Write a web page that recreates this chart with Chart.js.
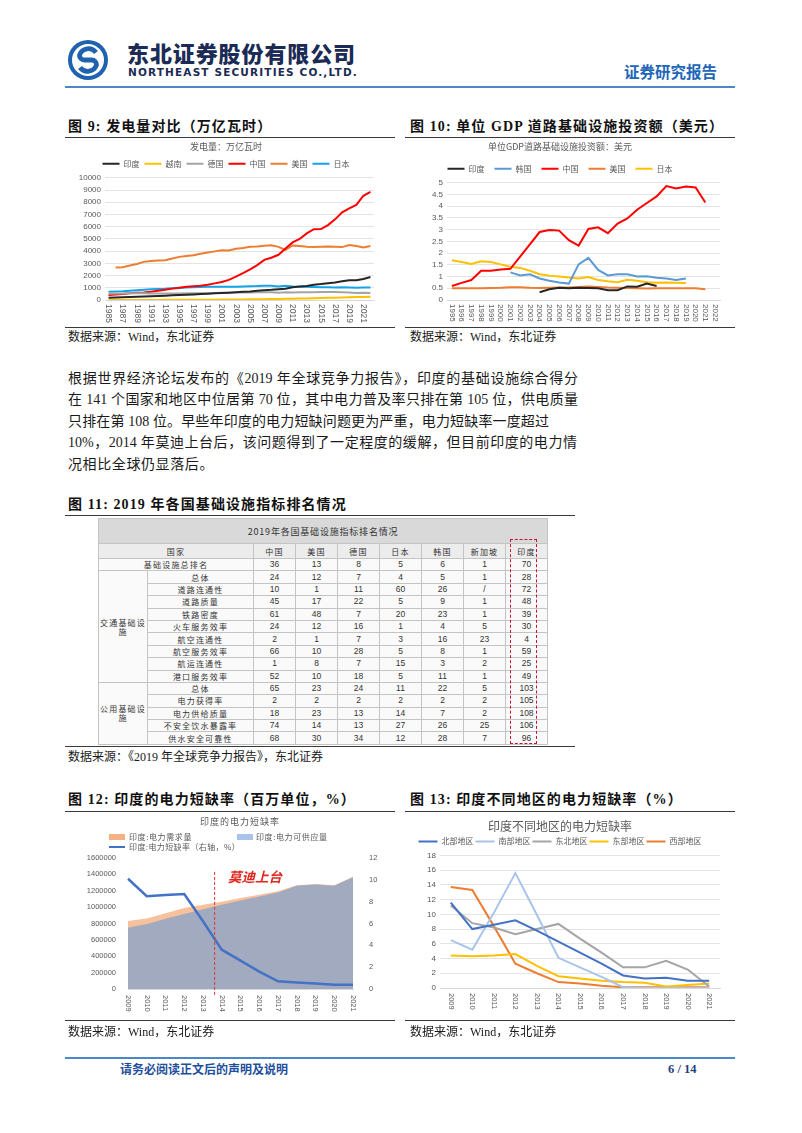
<!DOCTYPE html>
<html lang="zh-CN">
<head>
<meta charset="utf-8">
<title>东北证券 证券研究报告 6/14</title>
<script src="https://cdn.jsdelivr.net/npm/chart.js@4.4.1/dist/chart.umd.min.js"></script>
<style>
html, body { margin: 0; padding: 0; background: #fff; }
#pagina { position: relative; width: 802px; height: 1133px; overflow: hidden; font-family: "Liberation Serif", "Noto Sans CJK SC", serif; color: #1a1a1a; }
#pagina > * { position: absolute; }
.titulo { font-size: 14px; font-weight: bold; line-height: 16px; white-space: nowrap; color: #111; letter-spacing: 1.1px; }
.linha { height: 0; border-top: 1px solid #3a3a3a; }
.fonte { font-size: 12px; line-height: 14px; white-space: nowrap; }
.texto { left: 68px; font-size: 14px; line-height: 16px; white-space: nowrap; text-align: justify; text-align-last: justify; }
.leg { font-family: "Noto Sans CJK SC", sans-serif; font-size: 8px; line-height: 10px; color: #595959; white-space: nowrap; }
.caixa { height: 6px; width: 16px; }
#tabela { border-collapse: collapse; table-layout: fixed; font-family: "Noto Sans CJK SC", sans-serif; color: #333; }
#tabela td { border: 1px solid #c4c4c4; padding: 0; text-align: center; font-size: 8px; line-height: 9px; height: 11.4px; letter-spacing: 1.2px; background: #fafafa; }
#tabela td.num { font-family: "Liberation Sans", sans-serif; font-size: 8.5px; letter-spacing: 0; }
#tabela tr.cab td { background: #ececec; height: 14px; }
#tabela tr.tit td { background: #d9d9d9; height: 24px; font-size: 9px; letter-spacing: 0.8px; }
</style>
</head>
<body>
<div id="pagina">

  <svg style="left:67px;top:39px" width="42" height="42" viewBox="0 0 42 42">
    <circle cx="21" cy="21" r="20" fill="#1f62b0"/>
    <circle cx="21" cy="21" r="16" fill="#fff"/>
    <path d="M29 13.5 A9.5 9.5 0 0 0 12.5 16 A4.8 4.8 0 0 0 17.5 21 L24.5 21 A4.8 4.8 0 0 1 29.5 26 A9.5 9.5 0 0 1 13 28.5" fill="none" stroke="#1f62b0" stroke-width="4.8"/>
  </svg>
  <div style="left:127px;top:39px;font-family:'Noto Sans CJK SC';font-weight:900;font-size:22px;line-height:26px;letter-spacing:0.9px;color:#1c2b55;white-space:nowrap">东北证券股份有限公司</div>
  <div style="left:128px;top:66px;font-family:'DejaVu Sans';font-weight:bold;font-size:10.5px;line-height:12px;letter-spacing:1.15px;color:#1c2b55;white-space:nowrap">NORTHEAST SECURITIES CO.,LTD.</div>
  <div style="left:624px;top:62px;font-family:'Noto Sans CJK SC';font-weight:bold;font-size:15.5px;line-height:18px;color:#2266b8;white-space:nowrap">证券研究报告</div>
  <div style="left:65px;top:86px;width:670px;height:2px;background:#4a88c8"></div>

  <div class="titulo" style="left:68px;top:119px">图 9: 发电量对比（万亿瓦时）</div>
  <div class="linha" style="left:65px;top:137px;width:330px"></div>
  <canvas id="grafico9" width="318" height="188" style="left:78px;top:139px"></canvas>
  <div class="linha" style="left:65px;top:327px;width:330px;border-top-width:1.5px"></div>
  <div class="fonte" style="left:68px;top:330px">数据来源：Wind，东北证券</div>

  <div class="titulo" style="left:410px;top:119px">图 10: 单位 GDP 道路基础设施投资额（美元）</div>
  <div class="linha" style="left:405px;top:137px;width:330px"></div>
  <canvas id="grafico10" width="330" height="188" style="left:400px;top:139px"></canvas>
  <div class="linha" style="left:405px;top:327px;width:330px;border-top-width:1.5px"></div>
  <div class="fonte" style="left:410px;top:330px">数据来源：Wind，东北证券</div>

  <div class="texto" style="top:371px;width:510px">根据世界经济论坛发布的《2019 年全球竞争力报告》，印度的基础设施综合得分</div>
  <div class="texto" style="top:392px;width:510px">在 141 个国家和地区中位居第 70 位，其中电力普及率只排在第 105 位，供电质量</div>
  <div class="texto" style="top:414px;width:481px">只排在第 108 位。早些年印度的电力短缺问题更为严重，电力短缺率一度超过</div>
  <div class="texto" style="top:435px;width:509px">10%，2014 年莫迪上台后，该问题得到了一定程度的缓解，但目前印度的电力情</div>
  <div class="texto" style="top:457px;text-align:left;text-align-last:left;letter-spacing:0.6px">况相比全球仍显落后。</div>

  <div class="titulo" style="left:68px;top:497px">图 11: 2019 年各国基础设施指标排名情况</div>
  <div class="linha" style="left:65px;top:515px;width:510px"></div>
  <table id="tabela" style="left:98px;top:518px;width:449px"></table>
  <div style="left:510px;top:539px;width:25px;height:203px;border:1px dashed #c8102e"></div>
  <div class="linha" style="left:65px;top:746px;width:510px;border-top-width:1.5px"></div>
  <div class="fonte" style="left:68px;top:750px">数据来源：《2019 年全球竞争力报告》，东北证券</div>

  <div class="titulo" style="left:68px;top:792px">图 12: 印度的电力短缺率（百万单位，%）</div>
  <div class="linha" style="left:65px;top:811px;width:330px"></div>
  <canvas id="grafico12" width="300" height="206" style="left:80px;top:815px"></canvas>
  <div class="leg" style="left:200px;top:816px;font-size:9px;line-height:11px;letter-spacing:1px">印度的电力短缺率</div>
  <div class="caixa" style="left:109px;top:834px;background:#f4b183"></div>
  <div class="leg" style="left:129px;top:832px;letter-spacing:0.6px">印度:电力需求量</div>
  <div class="caixa" style="left:237px;top:834px;background:#a9c4eb"></div>
  <div class="leg" style="left:256px;top:832px;letter-spacing:0.6px">印度:电力可供应量</div>
  <div style="left:109px;top:846px;width:16px;height:2px;background:#4472c4"></div>
  <div class="leg" style="left:129px;top:842px;letter-spacing:0.4px">印度:电力短缺率（右轴，%）</div>
  <div style="left:228px;top:868px;font-family:'Noto Sans CJK SC';font-weight:bold;font-style:italic;font-size:13.5px;line-height:16px;color:#e0281e;white-space:nowrap">莫迪上台</div>
  <div class="linha" style="left:65px;top:1020px;width:330px;border-top-width:1.5px"></div>
  <div class="fonte" style="left:68px;top:1025px">数据来源：Wind，东北证券</div>

  <div class="titulo" style="left:410px;top:792px">图 13: 印度不同地区的电力短缺率（%）</div>
  <div class="linha" style="left:405px;top:811px;width:330px"></div>
  <canvas id="grafico13" width="330" height="206" style="left:400px;top:815px"></canvas>
  <div class="linha" style="left:405px;top:1020px;width:330px;border-top-width:1.5px"></div>
  <div class="fonte" style="left:410px;top:1025px">数据来源：Wind，东北证券</div>

  <div style="left:65px;top:1057px;width:670px;height:2px;background:#4a88c8"></div>
  <div style="left:120px;top:1062px;font-family:'Noto Sans CJK SC';font-weight:bold;font-size:12px;line-height:14px;color:#1f4f9c;white-space:nowrap">请务必阅读正文后的声明及说明</div>
  <div style="left:668px;top:1062px;font-family:'Liberation Serif';font-weight:bold;font-size:12.5px;line-height:14px;color:#1f3f7c;white-space:nowrap">6 / 14</div>
</div>

<script>
// 图9 发电量
const anos9 = ['1985','1986','1987','1988','1989','1990','1991','1992','1993','1994','1995','1996','1997','1998','1999','2000','2001','2002','2003','2004','2005','2006','2007','2008','2009','2010','2011','2012','2013','2014','2015','2016','2017','2018','2019','2020','2021','2022'];
const india9 = [180,200,220,240,260,290,310,330,350,380,410,430,460,490,520,560,580,600,630,670,700,750,800,830,880,930,1050,1100,1150,1240,1300,1380,1430,1530,1620,1610,1720,1880];
const vietna9 = [5,6,7,8,8,9,9,10,11,13,15,17,19,21,24,27,31,36,41,46,54,60,67,75,84,95,105,115,125,140,160,175,190,210,230,240,250,260];
const alemanha9 = [520,530,540,550,560,550,540,540,530,530,540,550,550,560,560,580,590,590,610,620,620,640,640,640,590,630,610,630,640,630,650,650,650,640,610,570,590,580];
const china9 = [410,450,500,545,585,620,680,755,840,930,1010,1080,1135,1170,1240,1360,1480,1650,1910,2200,2500,2860,3280,3460,3700,4210,4710,4990,5450,5790,5810,6130,6600,7170,7500,7780,8530,8850];
const eua9 = [null,2650,2680,2830,2950,3120,3200,3230,3260,3400,3530,3600,3670,3780,3880,3980,4070,4050,4200,4260,4350,4370,4430,4480,4350,4100,4460,4420,4350,4330,4350,4380,4360,4330,4500,4420,4300,4420];
const japao9 = [680,700,720,760,800,840,880,900,920,960,990,1020,1050,1060,1080,1090,1080,1090,1080,1110,1130,1140,1170,1160,1110,1160,1100,1090,1080,1060,1040,1040,1030,1040,1030,1000,1020,1020];

// 图10 单位GDP道路基础设施投资额
const anos10 = ['1995','1996','1997','1998','1999','2000','2001','2002','2003','2004','2005','2006','2007','2008','2009','2010','2011','2012','2013','2014','2015','2016','2017','2018','2019','2020','2021','2022'];
const india10 = [null,null,null,null,null,null,null,null,null,0.33,0.46,0.52,0.5,0.52,0.51,0.5,0.42,0.42,0.58,0.57,0.7,0.6,null,null,null,null,null,null];
const coreia10 = [null,null,null,null,null,null,1.18,1.05,1.1,0.92,0.82,0.75,0.7,1.52,1.8,1.28,1.05,1.1,1.1,1.0,1.01,0.95,0.92,0.85,0.92,null,null,null];
const china10 = [0.6,0.73,0.85,1.25,1.25,1.3,1.33,1.85,2.37,2.9,2.99,2.96,2.55,2.32,3.03,3.1,2.85,3.26,3.48,3.85,4.14,4.42,4.86,4.76,4.84,4.8,4.16,null];
const eua10 = [0.5,0.5,0.5,0.5,0.51,0.52,0.54,0.54,0.52,0.51,0.52,0.53,0.53,0.56,0.58,0.56,0.53,0.52,0.51,0.5,0.49,0.5,0.5,0.5,0.5,0.5,0.46,null];
const japao10 = [1.7,1.62,1.54,1.65,1.62,1.52,1.42,1.37,1.25,1.1,1.04,1.0,0.96,0.92,0.98,0.85,0.8,0.76,0.86,0.82,0.76,0.74,0.75,0.74,0.73,null,null,null];

// 图11 排名表
const paises = ['中国','美国','德国','日本','韩国','新加坡','印度'];
const rankTotal = [36,13,8,5,6,1,70];
const transporte = [
    ['总体',24,12,7,4,5,1,28],
    ['道路连通性',10,1,11,60,26,'/',72],
    ['道路质量',45,17,22,5,9,1,48],
    ['铁路密度',61,48,7,20,23,1,39],
    ['火车服务效率',24,12,16,1,4,5,30],
    ['航空连通性',2,1,7,3,16,23,4],
    ['航空服务效率',66,10,28,5,8,1,59],
    ['航运连通性',1,8,7,15,3,2,25],
    ['港口服务效率',52,10,18,5,11,1,49]
];
const utilidades = [
    ['总体',65,23,24,11,22,5,103],
    ['电力获得率',2,2,2,2,2,2,105],
    ['电力供给质量',18,23,13,14,7,2,108],
    ['不安全饮水暴露率',74,14,13,27,26,25,106],
    ['供水安全可靠性',68,30,34,12,28,7,96]
];

// 图12 电力短缺率
const anos12 = ['2009','2010','2011','2012','2013','2014','2015','2016','2017','2018','2019','2020','2021'];
const demanda12 = [830000,860000,925000,990000,1030000,1065000,1110000,1150000,1195000,1267000,1282000,1268000,1372000];
const oferta12 = [747000,795000,858000,915000,975000,1030000,1080000,1130000,1180000,1260000,1276000,1262000,1366000];
const taxa12 = [10.1,8.5,8.6,8.7,6.2,3.6,2.6,1.6,0.7,0.6,0.5,0.4,0.4];
const indiceModi = 4.62;
const topoModi = 1430000;

// 图13 各地区电力短缺率
const anos13 = anos12;
const norte13 = [11.6,8.0,8.6,9.2,7.8,6.3,4.8,3.3,1.7,1.3,1.4,1.0,1.0];
const sul13 = [6.5,5.2,10.2,15.6,9.9,4.1,2.8,1.5,0.1,0,0,0,0];
const nordeste13 = [11.2,8.8,8.2,7.3,8.0,8.7,6.7,4.8,2.8,2.8,3.7,2.5,0.2];
const leste13 = [4.4,4.3,4.4,4.6,3.0,1.6,1.3,1.0,0.8,0.7,0.2,0.4,0.6];
const oeste13 = [13.7,13.3,8.4,3.3,2.0,0.8,0.6,0.3,0.1,0.1,0.1,0.1,0.1];

const cjk = 'Noto Sans CJK SC';
const cinza = '#595959';

// rotulos do eixo x girados 90 graus (leitura de cima para baixo)
const rotulosVerticais = {
    id: 'rotulosVerticais',
    afterDraw(chart, args, opts) {
        const xs = chart.scales.x;
        const ctx = chart.ctx;
        ctx.save();
        ctx.fillStyle = cinza;
        ctx.font = (opts.tamanho || 8) + 'px "Liberation Sans"';
        ctx.textAlign = 'left';
        ctx.textBaseline = 'middle';
        chart.data.labels.forEach((rotulo, i) => {
            if (i % (opts.passo || 1)) return;
            ctx.save();
            ctx.translate(xs.getPixelForValue(i), xs.top + (opts.afastamento || 4));
            ctx.rotate(Math.PI / 2);
            ctx.fillText(rotulo, 0, 0);
            ctx.restore();
        });
        ctx.restore();
    }
};

const linhaModi = {
    id: 'linhaModi',
    afterDatasetsDraw(chart) {
        const x = chart.scales.x.getPixelForValue(indiceModi);
        const ctx = chart.ctx;
        ctx.save();
        ctx.strokeStyle = '#e03030';
        ctx.lineWidth = 1;
        ctx.setLineDash([3, 2]);
        ctx.beginPath();
        ctx.moveTo(x, chart.scales.y.getPixelForValue(topoModi));
        ctx.lineTo(x, chart.chartArea.bottom + 6);
        ctx.stroke();
        ctx.restore();
    }
};

function serie(rotulo, dados, cor, largura) {
    return {
        label: rotulo,
        data: dados,
        borderColor: cor,
        backgroundColor: cor,
        borderWidth: largura || 2,
        pointRadius: 0,
        tension: 0,
        spanGaps: false
    };
}

function opcoesLinha(titulo, yMin, yMax, passo, larguraY, alturaX, direita, tamTitulo, padTitulo, legPad, legLargura, passoX, tamX, afast) {
    return {
        responsive: false,
        animation: false,
        layout: { padding: { left: 0, right: direita, top: 0, bottom: 0 } },
        plugins: {
            title: {
                display: true, text: titulo, color: cinza,
                font: { family: cjk, size: tamTitulo, weight: 'normal' }, padding: padTitulo
            },
            legend: {
                position: 'top',
                labels: {
                    color: cinza, font: { family: cjk, size: 8 },
                    usePointStyle: true, pointStyle: 'line', pointStyleWidth: legLargura,
                    padding: legPad, boxHeight: 8
                }
            },
            tooltip: { enabled: false },
            rotulosVerticais: { passo: passoX, tamanho: tamX, afastamento: afast }
        },
        scales: {
            x: {
                offset: true,
                grid: { display: false },
                border: { color: '#d9d9d9' },
                ticks: { display: false },
                afterFit: s => { s.height = alturaX; }
            },
            y: {
                min: yMin, max: yMax,
                grid: { color: '#e4e4e4', drawTicks: false },
                border: { display: false },
                ticks: { stepSize: passo, autoSkip: false, color: cinza, padding: 4, font: { family: 'Liberation Sans', size: 8 }, callback: v => String(v) },
                afterFit: s => { s.width = larguraY; }
            }
        }
    };
}

new Chart(document.getElementById('grafico9'), {
    type: 'line',
    data: {
        labels: anos9,
        datasets: [
            serie('印度', india9, '#262626'),
            serie('越南', vietna9, '#ffc000'),
            serie('德国', alemanha9, '#a5a5a5'),
            serie('中国', china9, '#ff0000'),
            serie('美国', eua9, '#ed7d31'),
            serie('日本', japao9, '#12a3e8')
        ]
    },
    options: opcoesLinha('发电量：万亿瓦时', 0, 10000, 1000, 27, 27, 22, 9, { top: 2, bottom: 3 }, 5, 17, 2, 8.5, 4),
    plugins: [rotulosVerticais]
});

new Chart(document.getElementById('grafico10'), {
    type: 'line',
    data: {
        labels: anos10,
        datasets: [
            serie('印度', india10, '#262626'),
            serie('韩国', coreia10, '#5b9bd5'),
            serie('中国', china10, '#ff0000'),
            serie('美国', eua10, '#ed7d31'),
            serie('日本', japao10, '#ffc000')
        ]
    },
    options: opcoesLinha('单位GDP道路基础设施投资额：美元', 0, 5, 0.5, 47, 27, 10, 9, { top: 2, bottom: 3 }, 10, 17, 1, 8, 4),
    plugins: [rotulosVerticais]
});

new Chart(document.getElementById('grafico13'), {
    type: 'line',
    data: {
        labels: anos13,
        datasets: [
            serie('北部地区', norte13, '#4472c4'),
            serie('南部地区', sul13, '#a9c4eb'),
            serie('东北地区', nordeste13, '#a5a5a5'),
            serie('东部地区', leste13, '#ffc000'),
            serie('西部地区', oeste13, '#ed7d31')
        ]
    },
    options: opcoesLinha('印度不同地区的电力短缺率', 0, 18, 2, 40, 33, 10, 12, { top: 4, bottom: 2 }, 2, 19, 1, 7.5, 5),
    plugins: [rotulosVerticais]
});

new Chart(document.getElementById('grafico12'), {
    type: 'line',
    data: {
        labels: anos12,
        datasets: [
            { label: '印度:电力短缺率（右轴，%）', data: taxa12, yAxisID: 'y1', borderColor: '#4472c4', borderWidth: 2.5, pointRadius: 0, fill: false, order: 0 },
            { label: '印度:电力可供应量', data: oferta12, yAxisID: 'y', borderWidth: 0, pointRadius: 0, fill: 'origin', backgroundColor: '#a2aac0', order: 1 },
            { label: '印度:电力需求量', data: demanda12, yAxisID: 'y', borderWidth: 0, pointRadius: 0, fill: 'origin', backgroundColor: '#f6c19c', order: 2 }
        ]
    },
    options: {
        responsive: false,
        animation: false,
        layout: { padding: { left: 0, right: 0, top: 43, bottom: 0 } },
        plugins: {
            legend: { display: false },
            tooltip: { enabled: false },
            rotulosVerticais: { passo: 1, tamanho: 7.5, afastamento: 6 }
        },
        scales: {
            x: {
                offset: false,
                grid: { display: false },
                border: { color: '#d9d9d9' },
                ticks: { display: false },
                afterFit: s => { s.height = 32; }
            },
            y: {
                position: 'left', min: 0, max: 1600000,
                grid: { display: false },
                border: { display: false },
                ticks: { stepSize: 200000, autoSkip: false, color: cinza, padding: 4, font: { family: 'Liberation Sans', size: 7.5 }, callback: v => String(v) },
                afterFit: s => { s.width = 48; }
            },
            y1: {
                position: 'right', min: 0, max: 12,
                grid: { display: false },
                border: { display: false },
                ticks: { stepSize: 2, autoSkip: false, color: cinza, padding: 8, font: { family: 'Liberation Sans', size: 7.5 } },
                afterFit: s => { s.width = 27; }
            }
        }
    },
    plugins: [rotulosVerticais, linhaModi]
});

// monta a tabela
const tabela = document.getElementById('tabela');
let html = '<colgroup><col style="width:49px"><col style="width:106px">' + paises.map(() => '<col style="width:42px">').join('') + '</colgroup>';
html += '<tr class="tit"><td colspan="9">2019年各国基础设施指标排名情况</td></tr>';
html += '<tr class="cab"><td colspan="2">国家</td>' + paises.map(p => '<td>' + p + '</td>').join('') + '</tr>';
html += '<tr><td colspan="2">基础设施总排名</td>' + rankTotal.map(v => '<td class="num">' + v + '</td>').join('') + '</tr>';
transporte.forEach((linha, i) => {
    html += '<tr>';
    if (i === 0) html += '<td rowspan="' + transporte.length + '">交通基础设<br>施</td>';
    html += '<td>' + linha[0] + '</td>' + linha.slice(1).map(v => '<td class="num">' + v + '</td>').join('') + '</tr>';
});
utilidades.forEach((linha, i) => {
    html += '<tr>';
    if (i === 0) html += '<td rowspan="' + utilidades.length + '">公用基础设<br>施</td>';
    html += '<td>' + linha[0] + '</td>' + linha.slice(1).map(v => '<td class="num">' + v + '</td>').join('') + '</tr>';
});
tabela.innerHTML = html;
</script>
</body>
</html>
